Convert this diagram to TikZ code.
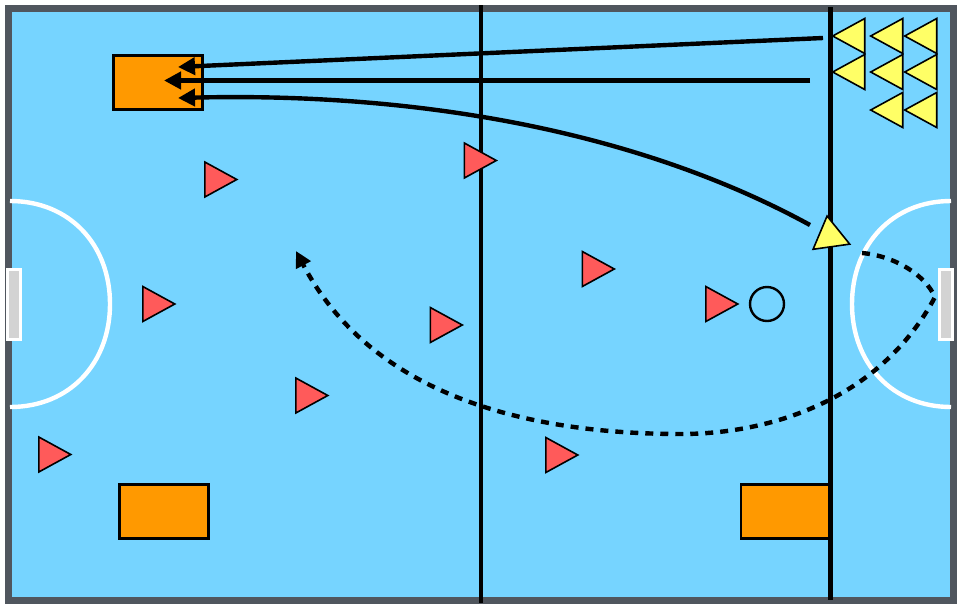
\documentclass[tikz,border=0pt]{standalone}
\usetikzlibrary{arrows.meta,shapes.geometric}
\definecolor{fieldblue}{HTML}{76D4FF}
\definecolor{wallgray}{HTML}{50565E}
\definecolor{boxorange}{HTML}{FF9900}
\definecolor{playeryellow}{HTML}{FFFF66}
\definecolor{playerred}{HTML}{FF5A5A}
\definecolor{goalgray}{HTML}{D3D3D3}
\tikzset{
	player/.style={draw=black,line width=1.6pt,shape=isosceles triangle,isosceles triangle apex angle=56,
		isosceles triangle stretches=true,minimum width=35pt,minimum height=32pt,inner sep=0pt,anchor=lower side},
	redplayer/.style={player,fill=playerred},
	yellowplayer/.style={player,fill=playeryellow,shape border rotate=180},
	cone/.style={draw=black,fill=boxorange,line width=2.6pt,minimum width=89pt,minimum height=54pt,inner sep=0pt,anchor=north west},
	goal/.style={draw=white,fill=goalgray,line width=3pt,minimum width=13pt,minimum height=70pt,inner sep=0pt},
	fieldline/.style={black,line width=4.6pt},
	zoneline/.style={white,line width=4.4pt},
	run/.style={black,line width=4.4pt,-{Triangle[length=17pt,width=17pt]}},
	dribble/.style={black,line width=4.4pt,dash pattern=on 8pt off 7pt,-{Triangle[length=16pt,width=16pt]}}
}
\begin{document}
\begin{tikzpicture}[x=1pt,y=-1pt]
	\useasboundingbox (0,0) rectangle (960,608);
	\draw[fill=fieldblue,draw=wallgray,line width=7pt] (8,8) rectangle (953,600);
	% zones
	\draw[zoneline] (10,201) .. controls (70,201) and (110,245) .. (110,304) .. controls (110,363) and (70,407) .. (10,407);
	\draw[zoneline] (951,201) .. controls (892,201) and (852,245) .. (852,304) .. controls (852,363) and (892,407) .. (951,407);
	\node[goal] (goalleft) at (14,304) {};
	\node[goal] (goalright) at (946,304) {};
	% boxes
	\node[cone] (boxtop) at (112,54) {};
	\node[cone] (boxleft) at (118,483) {};
	\node[cone] (boxright) at (739.5,483) {};
	% halfway lines
	\coordinate (midtop) at (481,5);
	\coordinate (midbottom) at (481,603);
	\coordinate (sidetop) at (830.5,7);
	\coordinate (sidebottom) at (830.5,600);
	\draw[fieldline] (midtop) -- (midbottom);
	\draw[fieldline] (sidetop) -- (sidebottom);
	% red team
	\foreach \name/\x/\y in {a/204/179.5,b/463.5/160.5,c/142/304,d/429.5/325,e/295/395.5,f/38/454.5,g/545/455,h/581.5/269,i/705/304}
		\node[redplayer] (red\name) at (\x,\y) {};
	% yellow team
	\foreach \name/\x/\y in {a/865.5/36,b/865.5/72,c/903.5/36,d/903.5/72,e/903.5/110,f/937.5/36,g/937.5/72,h/937.5/110}
		\node[yellowplayer] (yellow\name) at (\x,\y) {};
	\node[player,fill=playeryellow,shape border rotate=90,rotate=8,minimum width=37pt,minimum height=31pt] (keeper) at (831.5,247.5) {};
	\node[draw=black,line width=2.4pt,circle,minimum size=34pt,inner sep=0pt] (ball) at (767,304) {};
	% runs
	\coordinate (runone) at (823,38);
	\coordinate (runtwo) at (810,80.5);
	\coordinate (runthree) at (810,225);
	\coordinate (tipone) at (178,67);
	\coordinate (tiptwo) at (164,80.5);
	\coordinate (tipthree) at (178,98);
	\draw[run] (runone) -- (tipone);
	\draw[run] (runtwo) -- (tiptwo);
	\draw[run] (runthree) .. controls (640,132) and (420,92) .. (tipthree);
	% dribble
	\coordinate (dribblestart) at (862,253);
	\coordinate (dribblecorner) at (935,297);
	\coordinate (dribblelow) at (681,434);
	\coordinate (dribbleend) at (296,251);
	\draw[dribble] (dribblestart) .. controls (895,256) and (925,275) .. (dribblecorner)
		.. controls (880,400) and (770,434) .. (dribblelow)
		.. controls (520,434) and (370,392) .. (dribbleend);
\end{tikzpicture}
\end{document}
